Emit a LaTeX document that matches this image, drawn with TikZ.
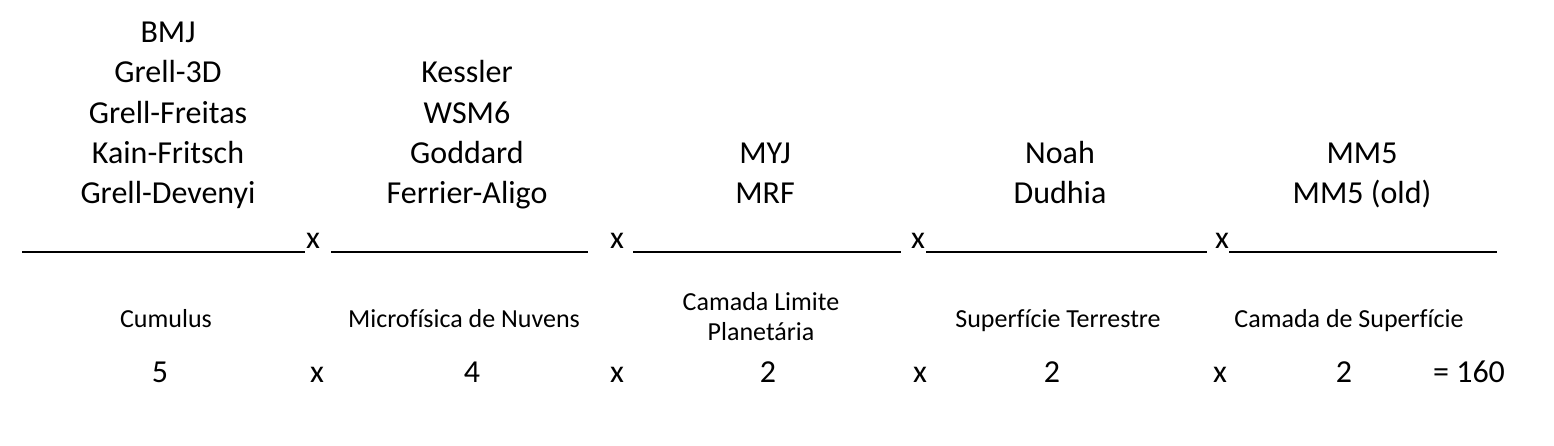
\documentclass[tikz,border=0pt]{standalone}
\usepackage{fontspec}
\setmainfont{Carlito}[Ligatures=NoCommon]
\usepackage{tikz}
\usetikzlibrary{positioning}

\tikzset{
  schemes/.style={font=\fontsize{32}{40.3}\selectfont, align=center, anchor=south, inner sep=0pt, execute at end node=\strut},
  category/.style={font=\fontsize{26}{30}\selectfont, align=center, anchor=south, inner sep=0pt, execute at end node=\strut},
  count/.style={font=\fontsize{32}{36}\selectfont, anchor=base, inner sep=0pt},
  blank/.style={line width=2pt}
}

\begin{document}
\begin{tikzpicture}[x=1pt, y=-1pt]
  \useasboundingbox (0,0) rectangle (1554,446);
  % options of each parameterization
  \node[schemes] (cu) at (168,216) {BMJ\\Grell-3D\\Grell-Freitas\\Kain-Fritsch\\Grell-Devenyi};
  \node[schemes] (mp) at (467,216) {Kessler\\WSM6\\Goddard\\Ferrier-Aligo};
  \node[schemes] (pbl) at (765,216) {MYJ\\MRF};
  \node[schemes] (lsm) at (1060,216) {Noah\\Dudhia};
  \node[schemes] (sfc) at (1362,216) {MM5\\MM5 (old)};
  % blanks and product signs
  \foreach \a/\b in {22/305, 331/588, 633/901, 926/1207, 1229/1497}
    \draw[blank] (\a,252) -- (\b,252);
  \foreach \xx/\n in {313/1, 617/2, 918/3, 1222/4}
    \node[count] (t\n) at (\xx,248) {x};
  % names of the parameterizations
  \node[category] (cuname) at (166,337) {Cumulus};
  \node[category] (mpname) at (464,337) {Microfísica de Nuvens};
  \node[category] (pblname) at (761,350) {Camada Limite\\Planetária};
  \node[category] (lsmname) at (1058,337) {Superfície Terrestre};
  \node[category] (sfcname) at (1349,337) {Camada de Superfície};
  % number of options
  \foreach \xx/\lab/\n in {160/5/1, 317/x/2, 472/4/3, 617/x/4, 768/2/5, 920/x/6, 1052/2/7, 1220/x/8, 1344/2/9, 1469/= 160/10}
    \node[count] (c\n) at (\xx,382) {\lab};
\end{tikzpicture}
\end{document}
